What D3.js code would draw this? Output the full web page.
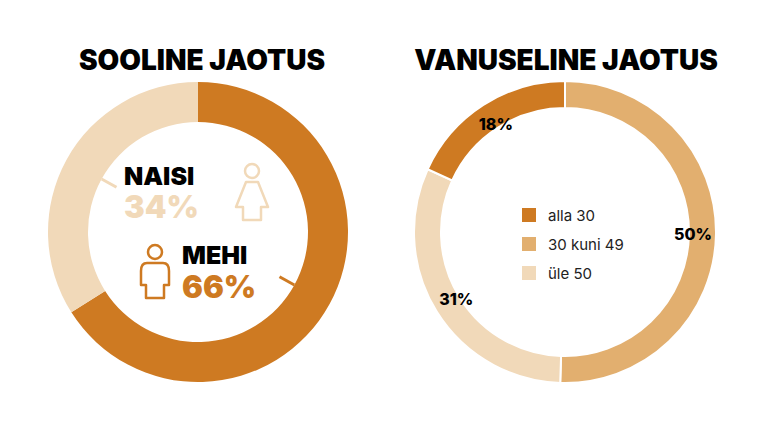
<!DOCTYPE html>
<html><head><meta charset="utf-8">
<script src="https://cdn.jsdelivr.net/npm/d3@7"></script>
<style>body{margin:0;background:#fff}text{font-family:Inter,"Noto Sans",sans-serif}</style>
</head><body><div id="chart"></div>
<script>
var width = 768, height = 432;
var genderLabels = ["MEHI", "NAISI"];
var genderValues = [66, 34];
var ageLabels = ["30 kuni 49", "üle 50", "alla 30"];
var ageValues = [50, 31, 18];
var legendLabels = ["alla 30", "30 kuni 49", "üle 50"];

var dark = "#CE7A22", mid = "#E2AF6F", light = "#F1D9B9";

var svg = d3.select("#chart").append("svg")
    .attr("width", width).attr("height", height);

var pie = d3.pie().sort(null).value(function(d){ return d; });

// left: gender
var g1 = svg.append("g").attr("transform", "translate(198,232)");
var arc1 = d3.arc().innerRadius(110).outerRadius(150);
g1.selectAll("path").data(pie(genderValues)).enter().append("path")
    .attr("d", arc1)
    .attr("fill", function(d, i){ return [dark, light][i]; });
// small tick marks
g1.selectAll("line").data(pie(genderValues)).enter().append("line")
    .each(function(d){
        var a = (d.startAngle + d.endAngle) / 2 - Math.PI / 2;
        d3.select(this)
          .attr("x1", Math.cos(a) * 93).attr("y1", Math.sin(a) * 93)
          .attr("x2", Math.cos(a) * 110).attr("y2", Math.sin(a) * 110);
    })
    .attr("stroke", function(d, i){ return [dark, light][i]; }).attr("stroke-width", 3);

svg.append("text").attr("x", 202).attr("y", 70).attr("text-anchor", "middle")
    .attr("font-size", 28).attr("font-weight", 900).text("SOOLINE JAOTUS");
svg.append("text").attr("x", 566).attr("y", 70).attr("text-anchor", "middle")
    .attr("font-size", 28).attr("font-weight", 900).text("VANUSELINE JAOTUS");

svg.append("text").attr("x", 124).attr("y", 185).attr("font-size", 25).attr("font-weight", 900).text(genderLabels[1]);
svg.append("text").attr("x", 124).attr("y", 218).attr("font-size", 31).attr("font-weight", 900).attr("fill", light).text(genderValues[1] + "%");
svg.append("text").attr("x", 182).attr("y", 264).attr("font-size", 25).attr("font-weight", 900).text(genderLabels[0]);
svg.append("text").attr("x", 182).attr("y", 298).attr("font-size", 31).attr("font-weight", 900).attr("fill", dark).text(genderValues[0] + "%");

// icons
var woman = svg.append("g").attr("transform", "translate(252,160)")
    .attr("fill", "none").attr("stroke", light).attr("stroke-width", 2.5).attr("stroke-linejoin", "round");
woman.append("circle").attr("cx", 0).attr("cy", 11).attr("r", 7);
woman.append("path").attr("d", "M-6,22 L6,22 L16,47 L9,47 L9,60 L-9,60 L-9,47 L-16,47 Z");
var man = svg.append("g").attr("transform", "translate(155,241)")
    .attr("fill", "none").attr("stroke", dark).attr("stroke-width", 2.5).attr("stroke-linejoin", "round");
man.append("circle").attr("cx", 0).attr("cy", 11).attr("r", 7);
man.append("path").attr("d", "M-8,22 L8,22 Q14,22 14,30 L14,44 L9,44 L9,57 L-9,57 L-9,44 L-14,44 L-14,30 Q-14,22 -8,22 Z");

// right: age
var g2 = svg.append("g").attr("transform", "translate(565,232)");
var arc2 = d3.arc().innerRadius(124).outerRadius(151);
var ageColors = [mid, light, dark];
g2.selectAll("path").data(pie(ageValues)).enter().append("path")
    .attr("d", arc2).attr("stroke", "#fff").attr("stroke-width", 2)
    .attr("fill", function(d, i){ return ageColors[i]; });
var labArc = d3.arc().innerRadius(128).outerRadius(128);
g2.selectAll("text").data(pie(ageValues)).enter().append("text")
    .attr("transform", function(d){
        var c = labArc.centroid(d);
        return "translate(" + c[0] + "," + (c[1] + 6) + ")";
    })
    .attr("text-anchor", "middle").attr("font-size", 16).attr("font-weight", 800)
    .text(function(d){ return d.data + "%"; });

var legColors = [dark, mid, light];
var leg = svg.append("g").attr("transform", "translate(522,208)");
legendLabels.forEach(function(l, i){
    leg.append("rect").attr("x", 0).attr("y", i * 29).attr("width", 14).attr("height", 14).attr("fill", legColors[i]);
    leg.append("text").attr("x", 26).attr("y", i * 29 + 13).attr("font-size", 15).attr("fill", "#222").text(l);
});
</script></body></html>
